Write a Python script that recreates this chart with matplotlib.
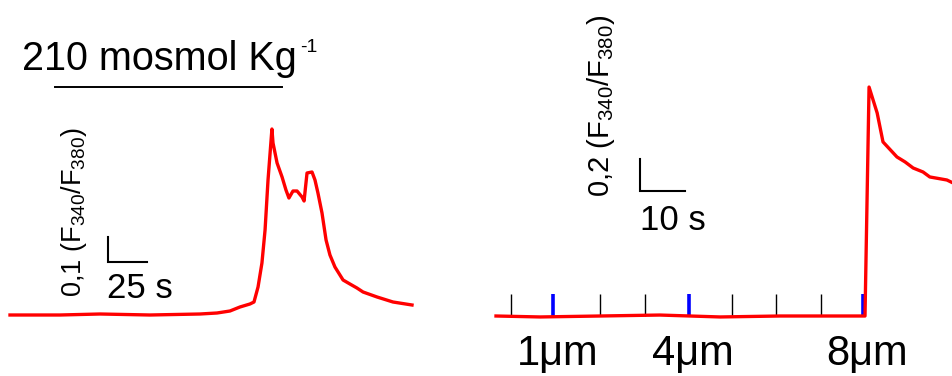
import matplotlib
matplotlib.use("Agg")
import matplotlib.pyplot as plt

plt.rcParams['font.family'] = ['Liberation Sans', 'DejaVu Sans']
plt.rcParams['mathtext.fontset'] = 'custom'
plt.rcParams['mathtext.rm'] = 'Liberation Sans'
plt.rcParams['mathtext.it'] = 'Liberation Sans'
plt.rcParams['mathtext.default'] = 'regular'

# Hypo-osmotic challenge: time (s) and change in F340/F380 ratio
hypo_time = [0, 32.1, 57.7, 89.7, 121.8, 132.7, 141.0, 147.4, 153.8, 156.4,
             159.0, 161.5, 163.5, 165.4, 167.9, 168.6, 171.2, 174.4, 176.9,
             178.8, 181.4, 184.0, 187.2, 188.5, 190.4, 193.6, 195.5, 197.4,
             200.0, 202.6, 205.1, 208.3, 213.5, 217.9, 222.4, 226.3, 235.3,
             245.5, 257.7]
hypo_ratio = [0, 0, 0.004, 0, 0.004, 0.008, 0.016, 0.032, 0.044, 0.052,
              0.112, 0.208, 0.34, 0.54, 0.744, 0.688, 0.608, 0.552, 0.50,
              0.468, 0.496, 0.496, 0.472, 0.456, 0.568, 0.572, 0.54, 0.488,
              0.408, 0.30, 0.24, 0.192, 0.14, 0.124, 0.108, 0.092, 0.072,
              0.052, 0.04]
hypo_bar = [28.8, 174.4]          # application of 210 mosmol/kg (s)

# Mechanical indentation: time (s) and change in F340/F380 ratio
mech_time = [0, 9.8, 23.1, 36.4, 49.8, 63.1, 76.4, 82.0, 82.9, 84.7, 86.0,
             89.1, 90.9, 92.7, 94.9, 96.4, 100.2, 101.6]
mech_ratio = [0, -0.006, 0, 0.006, -0.006, 0, 0, 0, 1.431, 1.269, 1.088,
              0.994, 0.963, 0.925, 0.90, 0.869, 0.85, 0.831]

# Indentation steps (1 um each) and the time they were applied (s)
step_um = [0, 1, 2, 3, 4, 5, 6, 7, 8]
step_time = [3.3, 12.7, 23.1, 33.1, 42.9, 52.4, 62.2, 72.2, 81.6]
labelled_um = [1, 4, 8]

W, H = 953, 376
fig = plt.figure(figsize=(W / 100, H / 100), dpi=100)


def panel(x0, y0, px_s, px_u):
    """Axes over the whole figure; (x0, y0) is the pixel of t=0, r=0."""
    ax = fig.add_axes([0, 0, 1, 1])
    ax.set_xlim(-x0 / px_s, (W - x0) / px_s)
    ax.set_ylim((y0 - H) / px_u, y0 / px_u)
    ax.axis('off')
    ax.patch.set_alpha(0)
    return ax


def ftext(x, y, s, **kw):
    fig.text(x / W, 1 - y / H, s, **kw)


red = '#ff0000'

# ---- left panel: hypo-osmotic response ----
axL = panel(10, 315, 1.56, 250)
axL.plot(hypo_time, hypo_ratio, color=red, lw=2.4, solid_joinstyle='round',
         zorder=3)
axL.plot(hypo_bar, [0.912, 0.912], color='black', lw=1.4)
# scale bar: 0.1 ratio units, 25 s
sbx, sby = 62.8, 0.212
axL.plot([sbx, sbx, sbx + 25], [sby + 0.1, sby, sby], color='black', lw=1.5,
         solid_joinstyle='miter')

ftext(22, 70, '210 mosmol Kg', fontsize=28.5, ha='left', va='baseline')
ftext(300, 52, '-1', fontsize=14, ha='left', va='baseline')
ftext(81, 297, '0,1 (F$_{340}$/F$_{380}$)', fontsize=19.5, rotation=90,
      rotation_mode='anchor', ha='left', va='baseline')
ftext(107, 298, '25 s', fontsize=25, ha='left', va='baseline')

# ---- right panel: indentation response ----
axR = panel(496, 316, 4.5, 160)
for um, t in zip(step_um, step_time):
    if um in labelled_um:
        axR.plot([t, t], [0, 0.14], color='#0000ff', lw=2.6, zorder=2,
                 solid_capstyle='butt')
        axR.text(t + 0.9, -0.307, f'{um}μm', fontsize=30, ha='center',
                 va='baseline')
    else:
        axR.plot([t, t], [0, 0.14], color='black', lw=1.0, zorder=2,
                 solid_capstyle='butt')
axR.plot(mech_time, mech_ratio, color=red, lw=2.4, solid_joinstyle='round',
         zorder=3)
# scale bar: 0.2 ratio units, 10 s
sbx, sby = 32.0, 0.78
axR.plot([sbx, sbx, sbx + 10], [sby + 0.2, sby, sby], color='black', lw=1.5,
         solid_joinstyle='miter')

ftext(609, 197, '0,2 (F$_{340}$/F$_{380}$)', fontsize=21, rotation=90,
      rotation_mode='anchor', ha='left', va='baseline')
ftext(640, 230, '10 s', fontsize=25, ha='left', va='baseline')

fig.savefig('out.png', dpi=100)
